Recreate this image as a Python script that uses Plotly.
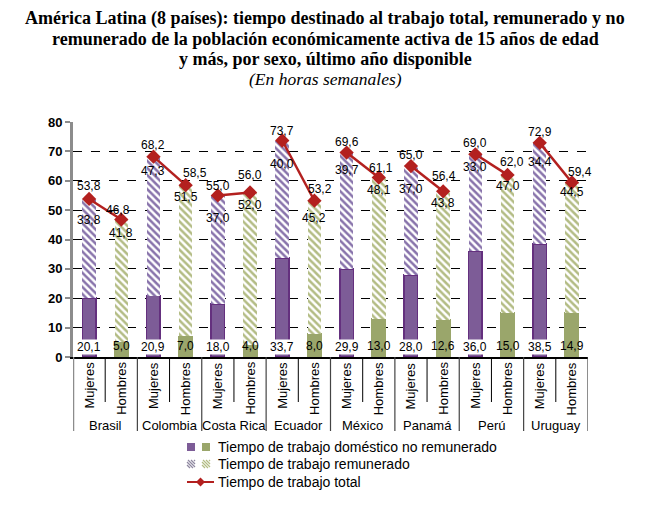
import plotly.graph_objects as go

# ---------------- data ----------------
countries = ["Brasil", "Colombia", "Costa Rica", "Ecuador", "México", "Panamá", "Perú", "Uruguay"]
sexes = ["Mujeres", "Hombres"]
dom_m = [20.1, 20.9, 18.0, 33.7, 29.9, 28.0, 36.0, 38.5]   # trabajo doméstico no remunerado, mujeres
dom_h = [5.0, 7.0, 4.0, 8.0, 13.0, 12.6, 15.0, 14.9]       # hombres
rem_m = [33.8, 47.3, 37.0, 40.0, 39.7, 37.0, 33.0, 34.4]   # trabajo remunerado, mujeres
rem_h = [41.8, 51.5, 52.0, 45.2, 48.1, 43.8, 47.0, 44.5]   # hombres
tot_m = [53.8, 68.2, 55.0, 73.7, 69.6, 65.0, 69.0, 72.9]   # trabajo total, mujeres
tot_h = [46.8, 58.5, 56.0, 53.2, 61.1, 56.4, 62.0, 59.4]   # hombres

# ---------------- style ----------------
# the page has an 8px body margin, so the figure is 8px smaller
W, H = 652, 502
SL, SR, ST, SB = 73, 588, 122, 357          # plot area in screen pixels
OFF = 8
ML, MT = SL - OFF, ST - OFF
MR, MB = W - (SR - OFF), H - (SB - OFF)
PURPLE = "#7d5c97"
PURPLE_EDGE = "#64307e"
GREEN = "#9aa66b"
PURPLE_HATCH = "#8873ab"
GREEN_HATCH = "#b3bc84"
RED = "#b3201f"
FONT = "Liberation Sans, Arial, sans-serif"
SERIF = "Liberation Serif, Times New Roman, serif"

# label offsets in pixels (style only)
tot_shift_m = [13, 12, 9, 10, 11, 11, 11, 11]
tot_shift_h = [10, 12, 18, 12, 10, 15, 13, 11]
tot_xshift_h = [-3, 9, 0, 6, 2, 1, 4, 8]
rem_shift_m = [-21, -14, -23, -23, -17, -23, -13, -19]
rem_shift_h = [-13, -12, -12, -17, -12, -12, -11, -9]

def fmt(v):
    return f"{v:.1f}".replace(".", ",")

def cat(c, s):
    return f"{c} · {s}"

# interleave
cats, dom, rem, dom_col, hatch_col, edge_col = [], [], [], [], [], []
for i, c in enumerate(countries):
    cats += [cat(c, s) for s in sexes]
    dom += [dom_m[i], dom_h[i]]
    rem += [rem_m[i], rem_h[i]]
    dom_col += [PURPLE, GREEN]
    hatch_col += [PURPLE_HATCH, GREEN_HATCH]
    edge_col += [PURPLE_EDGE, GREEN]

fig = go.Figure()
fig.add_trace(go.Bar(
    x=cats, y=dom, name="Tiempo de trabajo doméstico no remunerado",
    marker=dict(color=dom_col, line=dict(color=edge_col, width=1.5)),
    width=0.42, showlegend=False, hoverinfo="skip"))
fig.add_trace(go.Bar(
    x=cats, y=rem, name="Tiempo de trabajo remunerado",
    marker=dict(color="white", line=dict(width=0),
                pattern=dict(shape="\\", fgcolor=hatch_col, bgcolor="white",
                             size=5, solidity=0.5, fillmode="replace")),
    width=0.42, showlegend=False, hoverinfo="skip"))
for i, c in enumerate(countries):
    fig.add_trace(go.Scatter(
        x=[cat(c, s) for s in sexes], y=[tot_m[i], tot_h[i]], mode="lines+markers",
        line=dict(color=RED, width=2.5),
        marker=dict(symbol="diamond", size=11, color=RED),
        showlegend=False, hoverinfo="skip"))

# helpers screen pixel -> paper
def px(x):
    return (x - SL) / (SR - SL)
def py(y):
    return (SB - y) / (SB - ST)

ann = []
lab_font = dict(family=FONT, size=12, color="black")
tick_font = dict(family=FONT, size=13, color="black")
for i, c in enumerate(countries):
    xm, xh = cat(c, "Mujeres"), cat(c, "Hombres")
    ann.append(dict(x=xm, y=tot_m[i], text=fmt(tot_m[i]), showarrow=False, yshift=tot_shift_m[i], font=lab_font))
    ann.append(dict(x=xh, y=tot_h[i], text=fmt(tot_h[i]), showarrow=False, yshift=tot_shift_h[i],
                    xshift=tot_xshift_h[i], font=lab_font))
    ann.append(dict(x=xm, y=tot_m[i], text=fmt(rem_m[i]), showarrow=False, yshift=rem_shift_m[i], font=lab_font))
    ann.append(dict(x=xh, y=tot_h[i], text=fmt(rem_h[i]), showarrow=False, yshift=rem_shift_h[i], font=lab_font))
    ann.append(dict(x=xm, y=0, text=fmt(dom_m[i]), showarrow=False, yanchor="bottom", yshift=2,
                    bgcolor="white", borderpad=0, font=lab_font))
    ann.append(dict(x=xh, y=0, text=fmt(dom_h[i]), showarrow=False, yanchor="bottom", yshift=2,
                    font=lab_font))
    # category labels (rotated) and country labels
    for s in sexes:
        ann.append(dict(x=cat(c, s), yref="paper", y=py(360), text=s, showarrow=False,
                        textangle=-90, xanchor="center", yanchor="top", font=tick_font))
    ann.append(dict(x=2 * i + 0.5, xref="x", yref="paper", y=py(425), text=c, showarrow=False,
                    xanchor="center", yanchor="middle", font=tick_font))

# title lines
title_lines = [
    ("<b>América Latina (8 países): tiempo destinado al trabajo total, remunerado y no</b>", 18.5, 18),
    ("<b>remunerado de la población económicamente activa de 15 años de edad</b>", 38.5, 18),
    ("<b>y más, por sexo, último año disponible</b>", 58.5, 18),
    ("<i>(En horas semanales)</i>", 79, 17.5),
]
for t, yy, fs in title_lines:
    ann.append(dict(xref="paper", yref="paper", x=px(325), y=py(yy), text=t, showarrow=False,
                    xanchor="center", yanchor="middle",
                    font=dict(family=SERIF, size=fs, color="black")))

# legend (manual)
leg_text = ["Tiempo de trabajo doméstico no remunerado", "Tiempo de trabajo remunerado", "Tiempo de trabajo total"]
leg_y = [447, 464, 482]
for t, yy in zip(leg_text, leg_y):
    ann.append(dict(xref="paper", yref="paper", x=px(216), y=py(yy), text=t, showarrow=False,
                    xanchor="left", yanchor="middle", font=dict(family=FONT, size=14, color="black")))

shapes = []
def sq(x0, y0, s, color):
    shapes.append(dict(type="rect", xref="paper", yref="paper", x0=px(x0), x1=px(x0 + s),
                       y0=py(y0), y1=py(y0 + s), fillcolor=color, line=dict(width=0)))
def hatch(x0, y0, s, color):
    for k in range(-s, s + 1, 3):
        xa, ya = x0 + max(0, k), y0 + max(0, -k)
        xb, yb = x0 + min(s, s + k), y0 + min(s, s - k)
        if xb - xa < 0.8:
            continue
        shapes.append(dict(type="line", xref="paper", yref="paper", x0=px(xa), y0=py(ya),
                           x1=px(xb), y1=py(yb), line=dict(color=color, width=1.3)))
sq(187, 443, 8, PURPLE)
sq(202, 443, 8, GREEN)
hatch(187, 460, 8, "#8f88a0")
hatch(202, 460, 8, GREEN_HATCH)
shapes.append(dict(type="line", xref="paper", yref="paper", x0=px(187), x1=px(214),
                   y0=py(482), y1=py(482), line=dict(color=RED, width=2)))
cx, cy, r = 200.5, 482, 4.5
shapes.append(dict(type="path", xref="paper", yref="paper",
                   path=f"M {px(cx)},{py(cy - r)} L {px(cx + r)},{py(cy)} L {px(cx)},{py(cy + r)} L {px(cx - r)},{py(cy)} Z",
                   fillcolor=RED, line=dict(width=0)))
# separators: short between Mujeres/Hombres, long between countries
for i in range(len(countries)):
    shapes.append(dict(type="line", xref="x", yref="paper", x0=2 * i + 0.5, x1=2 * i + 0.5,
                       y0=py(357), y1=py(402), line=dict(color="black", width=1)))
for i in range(len(countries) + 1):
    shapes.append(dict(type="line", xref="x", yref="paper", x0=2 * i - 0.5, x1=2 * i - 0.5,
                       y0=py(357), y1=py(431), line=dict(color="#444444" if i else "#8c8c8c", width=1.2 if i else 2.5)))

fig.update_layout(
    width=W, height=H,
    margin=dict(l=ML, r=MR, t=MT, b=MB, autoexpand=False),
    paper_bgcolor="white", plot_bgcolor="white",
    barmode="stack",
    showlegend=False,
    annotations=ann,
    shapes=shapes,
    font=dict(family=FONT, size=13, color="black"),
    xaxis=dict(
        type="category", automargin=False,
        showline=True, linecolor="black", linewidth=1.5,
        ticks="", showticklabels=False,
        showgrid=False, range=[-0.5, 15.5],
    ),
    yaxis=dict(
        automargin=False,
        range=[0, 80], dtick=10,
        showline=True, linecolor="#8c8c8c", linewidth=3,
        ticks="outside", ticklen=5, tickcolor="#8c8c8c", tickwidth=1.5,
        showgrid=True, gridcolor="black", griddash="dash", gridwidth=1,
        zeroline=False,
        tickfont=dict(family=FONT, size=13, color="black", weight="bold"),
    ),
)

fig.write_html("out.html")
